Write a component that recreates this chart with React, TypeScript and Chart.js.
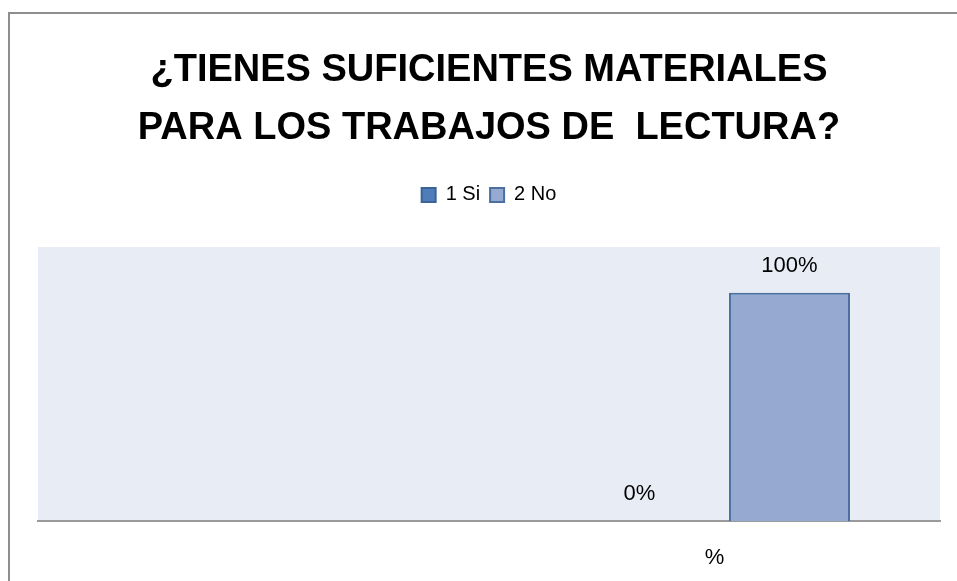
import React, { useEffect, useRef } from "react";
import { Chart, registerables } from "chart.js";

Chart.register(...registerables);

const categories = ["", "%"];
const seriesNames = ["1 Si", "2 No"];
const siValues: (number | null)[] = [null, 0];
const noValues: (number | null)[] = [null, 100];
const titleLines = ["¿TIENES SUFICIENTES MATERIALES", "PARA LOS TRABAJOS DE  LECTURA?"];

const FONT = "'Liberation Sans', Arial, sans-serif";

const frameAndBg = {
  id: "frameAndBg",
  beforeDraw(chart: any) {
    const { ctx, chartArea } = chart;
    ctx.save();
    ctx.fillStyle = "#E8ECF4";
    ctx.fillRect(chartArea.left, chartArea.top, chartArea.right - chartArea.left, chartArea.bottom - chartArea.top);
    ctx.strokeStyle = "#8E8E8E";
    ctx.lineWidth = 2;
    ctx.beginPath();
    ctx.moveTo(9, 1000);
    ctx.lineTo(9, 13);
    ctx.lineTo(2000, 13);
    ctx.stroke();
    ctx.restore();
  },
};

const dataLabels = {
  id: "dataLabels",
  afterDatasetsDraw(chart: any) {
    const { ctx } = chart;
    ctx.save();
    ctx.font = `22px ${FONT}`;
    ctx.fillStyle = "#000";
    ctx.textAlign = "center";
    ctx.textBaseline = "middle";
    chart.data.datasets.forEach((ds: any, i: number) => {
      const meta = chart.getDatasetMeta(i);
      meta.data.forEach((el: any, j: number) => {
        const v = ds.data[j];
        if (v === null || v === undefined) return;
        ctx.fillText(`${v}%`, el.x, el.y - 27);
      });
    });
    ctx.restore();
  },
};

export default function App() {
  const ref = useRef<HTMLCanvasElement>(null);
  useEffect(() => {
    if (!ref.current) return;
    const chart = new Chart(ref.current, {
      type: "bar",
      data: {
        labels: categories,
        datasets: [
          {
            label: seriesNames[0],
            data: siValues,
            backgroundColor: "#4F7DB9",
            borderColor: "#3A6397",
            borderWidth: 2,
            categoryPercentage: 0.665,
            barPercentage: 0.807,
          },
          {
            label: seriesNames[1],
            data: noValues,
            backgroundColor: "#95A9D1",
            borderColor: "#4A6FA0",
            borderWidth: 2,
            categoryPercentage: 0.665,
            barPercentage: 0.807,
          },
        ],
      },
      options: {
        responsive: false,
        animation: false,
        layout: { padding: { left: 38, right: 17, top: 0, bottom: 0 } },
        plugins: {
          title: {
            display: true,
            text: titleLines,
            color: "#000",
            font: { family: FONT, size: 38, weight: "bold", lineHeight: 1.526 },
            padding: { top: 42, bottom: 17 },
          },
          legend: {
            display: true,
            position: "top",
            labels: {
              color: "#000",
              font: { family: FONT, size: 20 },
              boxWidth: 14,
              boxHeight: 14,
              padding: 10,
            },
          },
          tooltip: { enabled: false },
        },
        scales: {
          x: {
            type: "category",
            position: "bottom",
            grid: { display: false, drawTicks: false },
            border: { display: true, color: "#9A9A9A", width: 2 },
            ticks: { color: "#000", font: { family: FONT, size: 22 }, padding: 24 },
            afterFit: (s: any) => {
              s.height = 60;
            },
          },
          spacer: {
            type: "category",
            position: "top",
            labels: categories,
            grid: { display: false, drawTicks: false },
            border: { display: false },
            ticks: { display: false },
            afterFit: (s: any) => {
              s.height = 32;
            },
          },
          y: {
            display: false,
            min: 0,
            max: 120,
          },
        },
      } as any,
      plugins: [frameAndBg, dataLabels],
    });
    return () => chart.destroy();
  }, []);
  return (
    <div style={{ position: "absolute", left: 0, top: 0, width: 957, height: 581 }}>
      <canvas ref={ref} width={957} height={581} style={{ display: "block" }} />
    </div>
  );
}
